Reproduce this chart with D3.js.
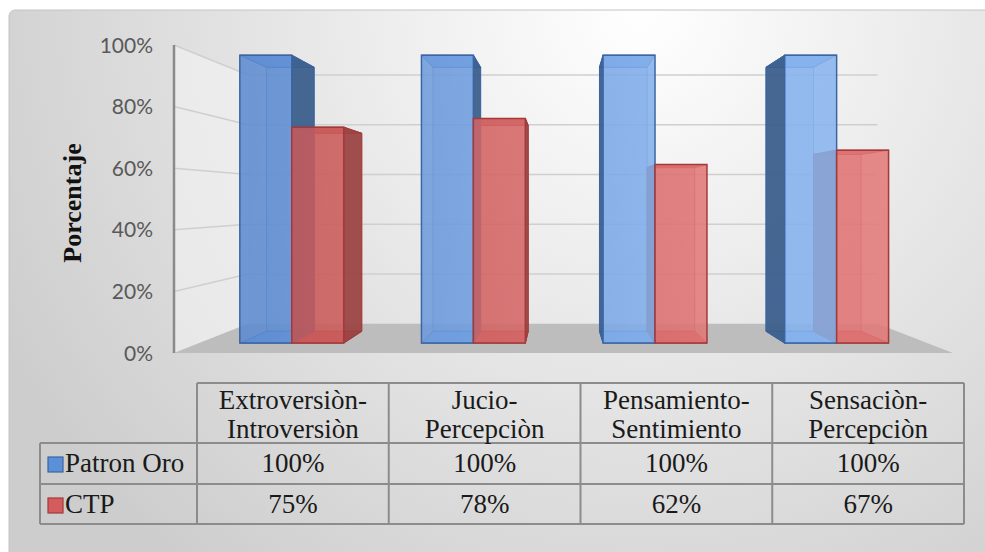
<!DOCTYPE html>
<html>
<head>
<meta charset="utf-8">
<script src="https://cdn.jsdelivr.net/npm/d3@7"></script>
<style>
  body { margin: 0; background: #fff; }
  svg { display: block; }
</style>
</head>
<body>
<script>
// data
let categories = ['Extroversiòn-Introversiòn', 'Jucio-Percepciòn', 'Pensamiento-Sentimiento', 'Sensaciòn-Percepciòn']
let seriesNames = ['Patron Oro', 'CTP']
let patronOro = [1.00, 1.00, 1.00, 1.00]
let ctp = [0.75, 0.78, 0.62, 0.67]
let tickValues = [0, 0.2, 0.4, 0.6, 0.8, 1.0]

let seriesValues = [patronOro, ctp]
let pct = d3.format('.0%')

let width = 985
let height = 552

let svg = d3.select('body').append('svg')
            .attr('width', width)
            .attr('height', height)

let defs = svg.append('defs')

// chart background
let bg = defs.append('radialGradient')
            .attr('id', 'bg')
            .attr('gradientUnits', 'userSpaceOnUse')
            .attr('cx', 640).attr('cy', 10).attr('r', 720)
bg.append('stop').attr('offset', '0%').attr('stop-color', '#ffffff')
bg.append('stop').attr('offset', '100%').attr('stop-color', '#cdcdcd')

let blueGrad = defs.append('linearGradient')
            .attr('id', 'blueFront')
            .attr('gradientUnits', 'userSpaceOnUse')
            .attr('x1', 220).attr('x2', 700).attr('y1', 0).attr('y2', 0)
blueGrad.append('stop').attr('offset', '0%').attr('stop-color', '#5786cd')
blueGrad.append('stop').attr('offset', '100%').attr('stop-color', '#86b3ee')

let redGrad = defs.append('linearGradient')
            .attr('id', 'redFront')
            .attr('gradientUnits', 'userSpaceOnUse')
            .attr('x1', 280).attr('x2', 720).attr('y1', 0).attr('y2', 0)
redGrad.append('stop').attr('offset', '0%').attr('stop-color', '#c85858')
redGrad.append('stop').attr('offset', '100%').attr('stop-color', '#e27676')

svg.append('rect')
    .attr('x', 9).attr('y', 10)
    .attr('width', 1000).attr('height', 560)
    .attr('rx', 6)
    .attr('fill', 'url(#bg)')
    .attr('stroke', '#c4c4c4')

let styles = {
    'Patron Oro': { front: 'url(#blueFront)', side: '#3a5c8a', top: '#7aa7e6', stroke: '#3b66a3', legend: '#5b8fd8' },
    'CTP': { front: 'url(#redFront)', side: '#9a4343', top: '#c05050', stroke: '#a33a3a', legend: '#d55c5c' }
}

// scales (front plane) and a simple perspective towards a vanishing point
let yScale = d3.scaleLinear().domain([0, 1]).range([353, 45])
let xScale = d3.scaleBand().domain(categories).range([176, 953])
                .paddingInner(0.428).paddingOuter(0.214)
let xSeries = d3.scaleBand().domain(seriesNames).range([0, xScale.bandwidth()])

let vp = [560, 201]
let sWall = 0.808
let sFront = 0.935
let sBack = 0.857
let axisX = 174
let floorRight = 953

let proj = (px, py, s) => {
    return [vp[0] + s * (px - vp[0]), vp[1] + s * (py - vp[1])]
}
let poly = (pts) => 'M' + pts.map(p => p[0] + ',' + p[1]).join('L') + 'Z'

// side wall
svg.append('path')
    .attr('d', poly([
        proj(axisX, yScale(1), 1), proj(axisX, yScale(1), sWall),
        proj(axisX, yScale(0), sWall), proj(axisX, yScale(0), 1)
    ]))
    .attr('fill', '#f4f4f4')
    .attr('opacity', 0.6)

// floor
svg.append('path')
    .attr('d', poly([
        proj(axisX, yScale(0), 1), proj(floorRight, yScale(0), 1),
        proj(floorRight, yScale(0), sWall), proj(axisX, yScale(0), sWall)
    ]))
    .attr('fill', '#bdbdbd')

// gridlines
let grid = svg.append('g')
tickValues.filter(t => t > 0).forEach(t => {
    let a = proj(axisX, yScale(t), 1)
    let b = proj(axisX, yScale(t), sWall)
    let c = proj(floorRight, yScale(t), sWall)
    grid.append('path')
        .attr('d', 'M' + a + 'L' + b + 'L' + c)
        .attr('fill', 'none')
        .attr('stroke', '#cfcfcf')
        .attr('stroke-width', 1.5)
})

// vertical axis
svg.append('line')
    .attr('x1', axisX).attr('x2', axisX)
    .attr('y1', yScale(1)).attr('y2', yScale(0))
    .attr('stroke', '#8a8a8a')
    .attr('stroke-width', 2.5)

svg.append('g').selectAll('text')
    .data(tickValues)
    .enter()
    .append('text')
    .attr('x', 153)
    .attr('y', t => yScale(t) + 7.5)
    .attr('text-anchor', 'end')
    .attr('font-family', 'Lato, sans-serif')
    .attr('font-size', 21)
    .attr('fill', '#595959')
    .text(t => pct(t))

svg.append('text')
    .attr('transform', 'translate(81,203) rotate(-90)')
    .attr('text-anchor', 'middle')
    .attr('font-family', '"Liberation Serif", serif')
    .attr('font-weight', 'bold')
    .attr('font-size', 26)
    .attr('fill', '#111')
    .text('Porcentaje')

// bars
let bars = []
categories.forEach((cat, i) => {
    seriesNames.forEach((name, j) => {
        let xl = xScale(cat) + xSeries(name)
        let xr = xl + xSeries.bandwidth()
        let yt = yScale(seriesValues[j][i])
        let yb = yScale(0)
        bars.push({ name: name, xl: xl, xr: xr, yt: yt, yb: yb })
    })
})

let barLayer = svg.append('g')

// back faces
bars.forEach(b => {
    barLayer.append('path')
        .attr('d', poly([proj(b.xl, b.yt, sBack), proj(b.xr, b.yt, sBack), proj(b.xr, b.yb, sBack), proj(b.xl, b.yb, sBack)]))
        .attr('fill', styles[b.name].top)
        .attr('fill-opacity', 0.25)
        .attr('stroke', styles[b.name].stroke)
        .attr('stroke-opacity', 0.6)
})
// top and bottom faces
bars.forEach(b => {
    [b.yt, b.yb].forEach(yy => {
        barLayer.append('path')
            .attr('d', poly([proj(b.xl, yy, sFront), proj(b.xr, yy, sFront), proj(b.xr, yy, sBack), proj(b.xl, yy, sBack)]))
            .attr('fill', styles[b.name].top)
            .attr('fill-opacity', 0.9)
            .attr('stroke', styles[b.name].stroke)
    })
})
// visible side faces
bars.forEach(b => {
    let xs = []
    if (b.xr < vp[0]) xs.push(b.xr)
    if (b.xl > vp[0]) xs.push(b.xl)
    xs.forEach(xx => {
        barLayer.append('path')
            .attr('d', poly([proj(xx, b.yt, sFront), proj(xx, b.yt, sBack), proj(xx, b.yb, sBack), proj(xx, b.yb, sFront)]))
            .attr('fill', styles[b.name].side)
            .attr('fill-opacity', 0.92)
            .attr('stroke', styles[b.name].stroke)
    })
})
// front faces
bars.forEach(b => {
    barLayer.append('path')
        .attr('d', poly([proj(b.xl, b.yt, sFront), proj(b.xr, b.yt, sFront), proj(b.xr, b.yb, sFront), proj(b.xl, b.yb, sFront)]))
        .attr('fill', styles[b.name].front)
        .attr('fill-opacity', 0.85)
        .attr('stroke', styles[b.name].stroke)
        .attr('stroke-width', 1.5)
})

// data table
let tableX = d3.scaleBand().domain(categories).range([197, 964])
let rowY = [383, 443, 484, 524]
let legendLeft = 40
let table = svg.append('g')
let lineColor = '#8c8c8c'

table.append('line').attr('x1', 197).attr('x2', 964).attr('y1', rowY[0]).attr('y2', rowY[0])
rowY.slice(1).forEach(yy => {
    table.append('line').attr('x1', legendLeft).attr('x2', 964).attr('y1', yy).attr('y2', yy)
})
table.append('line').attr('x1', legendLeft).attr('x2', legendLeft).attr('y1', rowY[1]).attr('y2', rowY[3])
categories.forEach(cat => {
    table.append('line').attr('x1', tableX(cat)).attr('x2', tableX(cat)).attr('y1', rowY[0]).attr('y2', rowY[3])
})
table.append('line').attr('x1', 964).attr('x2', 964).attr('y1', rowY[0]).attr('y2', rowY[3])
table.selectAll('line').attr('stroke', lineColor).attr('stroke-width', 2)

let serif = '"Liberation Serif", "Times New Roman", serif'
let fontSize = 27

// header
categories.forEach(cat => {
    let cut = cat.indexOf('-') + 1
    let lines = [cat.slice(0, cut), cat.slice(cut)]
    lines.forEach((ln, k) => {
        table.append('text')
            .attr('x', tableX(cat) + tableX.bandwidth() / 2)
            .attr('y', 409 + k * 29)
            .attr('text-anchor', 'middle')
            .attr('font-family', serif)
            .attr('font-size', fontSize)
            .attr('fill', '#1a1a1a')
            .text(ln)
    })
})

// rows
seriesNames.forEach((name, j) => {
    let base = rowY[j + 1] + 29
    table.append('rect')
        .attr('x', 48).attr('y', rowY[j + 1] + 14)
        .attr('width', 15).attr('height', 15)
        .attr('fill', styles[name].legend)
        .attr('stroke', styles[name].stroke)
        .attr('stroke-width', 1.2)
    table.append('text')
        .attr('x', 65).attr('y', base)
        .attr('font-family', serif)
        .attr('font-size', fontSize)
        .attr('fill', '#1a1a1a')
        .text(name)
    categories.forEach((cat, i) => {
        table.append('text')
            .attr('x', tableX(cat) + tableX.bandwidth() / 2)
            .attr('y', base)
            .attr('text-anchor', 'middle')
            .attr('font-family', serif)
            .attr('font-size', fontSize)
            .attr('fill', '#1a1a1a')
            .text(pct(seriesValues[j][i]))
    })
})
</script>
</body>
</html>
